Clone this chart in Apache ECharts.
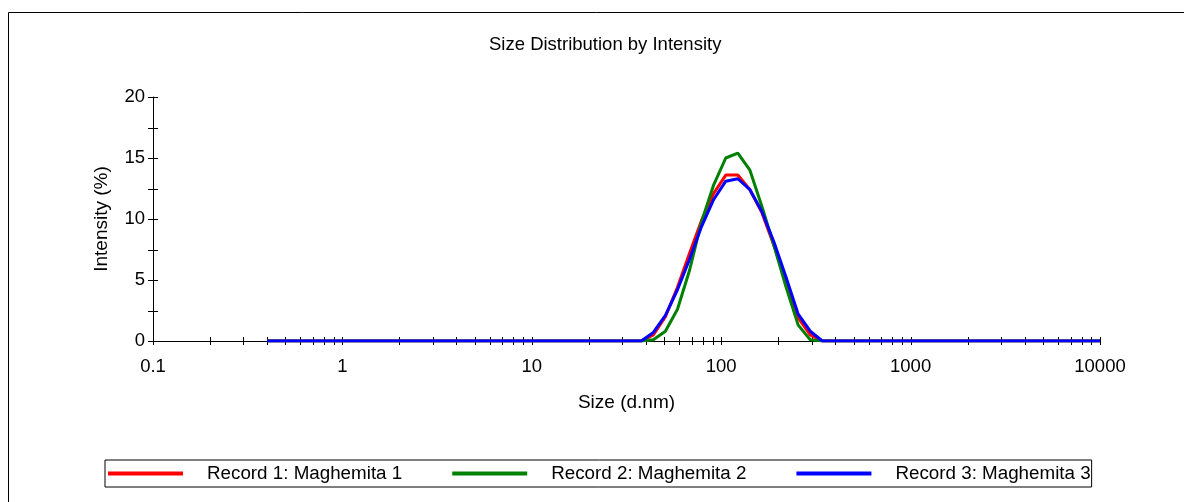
<!DOCTYPE html>
<html>
<head>
<meta charset="utf-8">
<script src="https://cdn.jsdelivr.net/npm/echarts@6/dist/echarts.min.js"></script>
<style>
html,body{margin:0;padding:0;background:#fff;}
#chart{width:1184px;height:502px;}
</style>
</head>
<body>
<div id="chart"></div>
<script>
// Size bins (d.nm)
const sizes = [0.4, 0.4632, 0.5365, 0.6213, 0.7195, 0.8332, 0.9649, 1.117, 1.294, 1.499,
  1.736, 2.01, 2.328, 2.696, 3.122, 3.615, 4.187, 4.849, 5.615, 6.503,
  7.531, 8.721, 10.1, 11.7, 13.54, 15.69, 18.17, 21.04, 24.36, 28.21,
  32.67, 37.84, 43.82, 50.75, 58.77, 68.06, 78.82, 91.28, 105.7, 122.4,
  141.8, 164.2, 190.1, 220.2, 255.0, 295.3, 342.0, 396.1, 458.7, 531.2,
  615.1, 712.4, 825.0, 955.4, 1106, 1281, 1484, 1718, 1990, 2305,
  2669, 3091, 3580, 4145, 4801, 5560, 6439, 7456, 8635, 10000];

const record1 = [0,0,0,0,0,0,0,0,0,0, 0,0,0,0,0,0,0,0,0,0, 0,0,0,0,0,0,0,0,0,0,
  0, 0.0, 0.5, 2.0, 4.4, 7.2, 9.9, 12.1, 13.6, 13.6,
  12.4, 10.5, 7.8, 4.8, 1.9, 0.5, 0, 0, 0, 0,
  0,0,0,0,0,0,0,0,0,0, 0,0,0,0,0,0,0,0,0,0];
const record2 = [0,0,0,0,0,0,0,0,0,0, 0,0,0,0,0,0,0,0,0,0, 0,0,0,0,0,0,0,0,0,0,
  0, 0.0, 0.1, 0.8, 2.6, 5.8, 9.8, 12.8, 15.0, 15.4,
  14.0, 11.0, 7.8, 4.4, 1.3, 0.1, 0, 0, 0, 0,
  0,0,0,0,0,0,0,0,0,0, 0,0,0,0,0,0,0,0,0,0];
const record3 = [0,0,0,0,0,0,0,0,0,0, 0,0,0,0,0,0,0,0,0,0, 0,0,0,0,0,0,0,0,0,0,
  0, 0.0, 0.7, 2.1, 4.2, 6.7, 9.4, 11.6, 13.1, 13.3,
  12.4, 10.6, 8.1, 5.2, 2.2, 0.8, 0, 0, 0, 0,
  0,0,0,0,0,0,0,0,0,0, 0,0,0,0,0,0,0,0,0,0];

const seriesNames = ['Record 1: Maghemita 1', 'Record 2: Maghemita 2', 'Record 3: Maghemita 3'];
const seriesColors = ['#ff0000', '#008000', '#0000ff'];

const xTickLabels = ['0.1', '1', '10', '100', '1000', '10000'];
const yTicks = [0, 2.5, 5, 7.5, 10, 12.5, 15, 17.5, 20];
const decades = [0.1, 1, 10, 100, 1000];
const xTicks = [];
decades.forEach(d => { for (let k = 1; k <= 9; k++) xTicks.push(+(d * k).toPrecision(3)); });
xTicks.push(10000);

const FONT = 'Liberation Sans, Arial, sans-serif';

function pairs(vals) { return sizes.map((s, i) => [s, vals[i]]); }

const chart = echarts.init(document.getElementById('chart'), null, {renderer: 'canvas'});

const tickSeriesX = {
  type: 'custom', silent: true, z: 1, clip: false, tooltip: {show: false},
  data: xTicks.map(v => [v, 0]),
  renderItem: function (params, api) {
    const p = api.coord([api.value(0), 0]);
    return {type: 'line', shape: {x1: Math.round(p[0]) + 0.5, y1: p[1] - 4, x2: Math.round(p[0]) + 0.5, y2: p[1] + 4},
      style: {stroke: '#000', lineWidth: 1}};
  }
};
const tickSeriesY = {
  type: 'custom', silent: true, z: 1, clip: false, tooltip: {show: false},
  data: yTicks.map(v => [0.1, v]),
  renderItem: function (params, api) {
    const p = api.coord([0.1, api.value(1)]);
    return {type: 'line', shape: {x1: p[0] - 5, y1: Math.round(p[1]) + 0.5, x2: p[0] + 5, y2: Math.round(p[1]) + 0.5},
      style: {stroke: '#000', lineWidth: 1}};
  }
};

const lineSeries = [record1, record2, record3].map((vals, i) => ({
  name: seriesNames[i],
  type: 'line',
  data: pairs(vals),
  showSymbol: false,
  symbol: 'none',
  smooth: false,
  lineStyle: {color: seriesColors[i], width: 3},
  itemStyle: {color: seriesColors[i]},
  z: 3 + i
}));

chart.setOption({
  animation: false,
  backgroundColor: '#fff',
  title: {
    text: 'Size Distribution by Intensity',
    left: 484, top: 30,
    textStyle: {fontFamily: FONT, fontSize: 18.5, fontWeight: 'normal', color: '#000'}
  },
  grid: {left: 153, right: 84, top: 97, bottom: 161, containLabel: false},
  legend: {
    data: seriesNames,
    left: 105, top: 460,
    orient: 'horizontal',
    icon: 'rect',
    itemWidth: 75, itemHeight: 4, itemGap: 50,
    padding: [4, 1, 4, 3],
    borderColor: '#000', borderWidth: 1,
    textStyle: {fontFamily: FONT, fontSize: 18.8, color: '#000', padding: [0, 0, 0, 19]}
  },
  xAxis: {
    type: 'log', logBase: 10, min: 0.1, max: 10000,
    name: 'Size (d.nm)', nameLocation: 'middle', nameGap: 52,
    nameTextStyle: {fontFamily: FONT, fontSize: 19, color: '#000'},
    axisLine: {show: true, lineStyle: {color: '#000', width: 1}},
    axisTick: {show: false},
    minorTick: {show: false},
    splitLine: {show: false},
    axisLabel: {
      fontFamily: FONT, fontSize: 18.5, color: '#000', margin: 16,
      formatter: function (v) { const s = String(+v.toPrecision(6)); return xTickLabels.indexOf(s) >= 0 ? s : ''; }
    }
  },
  yAxis: {
    type: 'value', min: 0, max: 20, interval: 5,
    name: 'Intensity (%)', nameLocation: 'middle', nameGap: 42, nameRotate: 90,
    nameTextStyle: {fontFamily: FONT, fontSize: 19, color: '#000'},
    axisLine: {show: true, lineStyle: {color: '#000', width: 1}},
    axisTick: {show: false},
    splitLine: {show: false},
    axisLabel: {fontFamily: FONT, fontSize: 18.5, color: '#000', margin: 8}
  },
  graphic: [
    {type: 'line', shape: {x1: 8.5, y1: 12.5, x2: 1184, y2: 12.5}, style: {stroke: '#000', lineWidth: 1}, silent: true},
    {type: 'line', shape: {x1: 8.5, y1: 12.5, x2: 8.5, y2: 502}, style: {stroke: '#000', lineWidth: 1}, silent: true}
  ],
  series: [tickSeriesX, tickSeriesY].concat(lineSeries)
});
</script>
</body>
</html>
